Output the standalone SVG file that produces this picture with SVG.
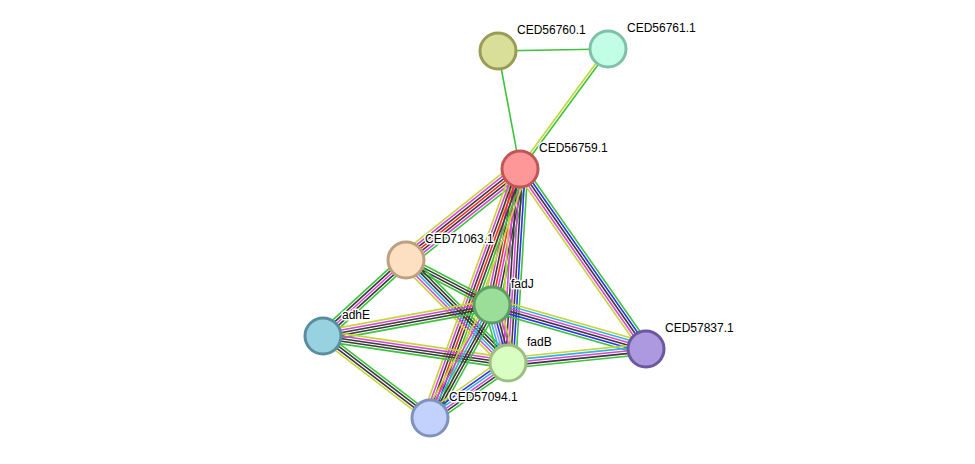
<svg xmlns="http://www.w3.org/2000/svg" width="975" height="464" viewBox="0 0 975 464">
<style>
line{stroke-width:1.6;fill:none}
.g{stroke:#3cc43c}.y{stroke:#c5d53a}.k{stroke:#3a3a3a}.m{stroke:#d845d8}.r{stroke:#ff2a2a}.b{stroke:#3030f0}.c{stroke:#30b4e0}.p{stroke:#9a9aff}
circle{stroke-width:3}
text{font-family:"Liberation Sans",Arial,sans-serif;font-size:12px;fill:#000;stroke:#fff;stroke-width:3px;stroke-linejoin:round;paint-order:stroke}
</style>
<rect width="975" height="464" fill="#fff"/>
<g id="connectors">
<g transform="translate(498,51) rotate(-1.04)"><line class="g" x1="0" y1="0" x2="110" y2="0"/></g>
<g transform="translate(498,51) rotate(79.44)"><line class="g" x1="0" y1="0" x2="120" y2="0"/></g>
<g transform="translate(608,49) rotate(126.25)"><line class="g" x1="0" y1="-1.3" x2="148.8" y2="-1.3"/><line class="y" x1="0" y1="1.3" x2="148.8" y2="1.3"/></g>
<g transform="translate(520,169) rotate(141.4)"><line class="g" x1="0" y1="-7.8" x2="145.9" y2="-7.8"/><line class="m" x1="0" y1="-5.2" x2="145.9" y2="-5.2"/><line class="k" x1="0" y1="-2.6" x2="145.9" y2="-2.6"/><line class="r" x1="0" y1="0" x2="145.9" y2="0"/><line class="k" x1="0" y1="2.6" x2="145.9" y2="2.6"/><line class="m" x1="0" y1="5.2" x2="145.9" y2="5.2"/><line class="y" x1="0" y1="7.8" x2="145.9" y2="7.8"/></g>
<g transform="translate(520,169) rotate(101.63)"><line class="g" x1="0" y1="-7.8" x2="138.9" y2="-7.8"/><line class="k" x1="0" y1="-5.2" x2="138.9" y2="-5.2"/><line class="m" x1="0" y1="-2.6" x2="138.9" y2="-2.6"/><line class="r" x1="0" y1="0" x2="138.9" y2="0"/><line class="k" x1="0" y1="2.6" x2="138.9" y2="2.6"/><line class="m" x1="0" y1="5.2" x2="138.9" y2="5.2"/><line class="y" x1="0" y1="7.8" x2="138.9" y2="7.8"/></g>
<g transform="translate(520,169) rotate(93.54)"><line class="g" x1="0" y1="-7.8" x2="194.4" y2="-7.8"/><line class="b" x1="0" y1="-5.2" x2="194.4" y2="-5.2"/><line class="k" x1="0" y1="-2.6" x2="194.4" y2="-2.6"/><line class="m" x1="0" y1="0" x2="194.4" y2="0"/><line class="k" x1="0" y1="2.6" x2="194.4" y2="2.6"/><line class="m" x1="0" y1="5.2" x2="194.4" y2="5.2"/><line class="y" x1="0" y1="7.8" x2="194.4" y2="7.8"/></g>
<g transform="translate(520,169) rotate(109.87)"><line class="y" x1="0" y1="-7.8" x2="264.8" y2="-7.8"/><line class="g" x1="0" y1="-5.2" x2="264.8" y2="-5.2"/><line class="k" x1="0" y1="-2.6" x2="264.8" y2="-2.6"/><line class="r" x1="0" y1="0" x2="264.8" y2="0"/><line class="k" x1="0" y1="2.6" x2="264.8" y2="2.6"/><line class="m" x1="0" y1="5.2" x2="264.8" y2="5.2"/><line class="y" x1="0" y1="7.8" x2="264.8" y2="7.8"/></g>
<g transform="translate(520,169) rotate(55.01)"><line class="g" x1="0" y1="-5.2" x2="219.7" y2="-5.2"/><line class="b" x1="0" y1="-2.6" x2="219.7" y2="-2.6"/><line class="k" x1="0" y1="0" x2="219.7" y2="0"/><line class="m" x1="0" y1="2.6" x2="219.7" y2="2.6"/><line class="y" x1="0" y1="5.2" x2="219.7" y2="5.2"/></g>
<g transform="translate(406,260) rotate(137.52)"><line class="g" x1="0" y1="-5.2" x2="112.5" y2="-5.2"/><line class="k" x1="0" y1="-2.6" x2="112.5" y2="-2.6"/><line class="m" x1="0" y1="0" x2="112.5" y2="0"/><line class="k" x1="0" y1="2.6" x2="112.5" y2="2.6"/><line class="g" x1="0" y1="5.2" x2="112.5" y2="5.2"/></g>
<g transform="translate(406,260) rotate(27.62)"><line class="g" x1="0" y1="-3.9" x2="97.1" y2="-3.9"/><line class="k" x1="0" y1="-1.3" x2="97.1" y2="-1.3"/><line class="k" x1="0" y1="1.3" x2="97.1" y2="1.3"/><line class="g" x1="0" y1="3.9" x2="97.1" y2="3.9"/></g>
<g transform="translate(406,260) rotate(45.28)"><line class="g" x1="0" y1="-6.5" x2="145" y2="-6.5"/><line class="k" x1="0" y1="-3.9" x2="145" y2="-3.9"/><line class="k" x1="0" y1="-1.3" x2="145" y2="-1.3"/><line class="c" x1="0" y1="1.3" x2="145" y2="1.3"/><line class="m" x1="0" y1="3.9" x2="145" y2="3.9"/><line class="y" x1="0" y1="6.5" x2="145" y2="6.5"/></g>
<g transform="translate(492,305) rotate(169.61)"><line class="g" x1="0" y1="-5.2" x2="171.8" y2="-5.2"/><line class="k" x1="0" y1="-2.6" x2="171.8" y2="-2.6"/><line class="k" x1="0" y1="0" x2="171.8" y2="0"/><line class="m" x1="0" y1="2.6" x2="171.8" y2="2.6"/><line class="y" x1="0" y1="5.2" x2="171.8" y2="5.2"/></g>
<g transform="translate(323,336) rotate(8.3)"><line class="y" x1="0" y1="-5.2" x2="187" y2="-5.2"/><line class="m" x1="0" y1="-2.6" x2="187" y2="-2.6"/><line class="k" x1="0" y1="0" x2="187" y2="0"/><line class="k" x1="0" y1="2.6" x2="187" y2="2.6"/><line class="g" x1="0" y1="5.2" x2="187" y2="5.2"/></g>
<g transform="translate(323,336) rotate(37.47)"><line class="g" x1="0" y1="-3.9" x2="134.8" y2="-3.9"/><line class="k" x1="0" y1="-1.3" x2="134.8" y2="-1.3"/><line class="k" x1="0" y1="1.3" x2="134.8" y2="1.3"/><line class="y" x1="0" y1="3.9" x2="134.8" y2="3.9"/></g>
<g transform="translate(492,305) rotate(74.58)"><line class="y" x1="0" y1="-7.8" x2="60.2" y2="-7.8"/><line class="m" x1="0" y1="-5.2" x2="60.2" y2="-5.2"/><line class="k" x1="0" y1="-2.6" x2="60.2" y2="-2.6"/><line class="b" x1="0" y1="0" x2="60.2" y2="0"/><line class="p" x1="0" y1="2.6" x2="60.2" y2="2.6"/><line class="c" x1="0" y1="5.2" x2="60.2" y2="5.2"/><line class="g" x1="0" y1="7.8" x2="60.2" y2="7.8"/></g>
<g transform="translate(492,305) rotate(15.95)"><line class="y" x1="0" y1="-6.5" x2="160.2" y2="-6.5"/><line class="c" x1="0" y1="-3.9" x2="160.2" y2="-3.9"/><line class="m" x1="0" y1="-1.3" x2="160.2" y2="-1.3"/><line class="k" x1="0" y1="1.3" x2="160.2" y2="1.3"/><line class="b" x1="0" y1="3.9" x2="160.2" y2="3.9"/><line class="g" x1="0" y1="6.5" x2="160.2" y2="6.5"/></g>
<g transform="translate(508,363) rotate(-5.79)"><line class="y" x1="0" y1="-5.2" x2="138.7" y2="-5.2"/><line class="c" x1="0" y1="-2.6" x2="138.7" y2="-2.6"/><line class="m" x1="0" y1="0" x2="138.7" y2="0"/><line class="k" x1="0" y1="2.6" x2="138.7" y2="2.6"/><line class="g" x1="0" y1="5.2" x2="138.7" y2="5.2"/></g>
<g transform="translate(492,305) rotate(118.75)"><line class="g" x1="0" y1="-6.5" x2="128.9" y2="-6.5"/><line class="k" x1="0" y1="-3.9" x2="128.9" y2="-3.9"/><line class="k" x1="0" y1="-1.3" x2="128.9" y2="-1.3"/><line class="c" x1="0" y1="1.3" x2="128.9" y2="1.3"/><line class="m" x1="0" y1="3.9" x2="128.9" y2="3.9"/><line class="y" x1="0" y1="6.5" x2="128.9" y2="6.5"/></g>
<g transform="translate(508,363) rotate(144.81)"><line class="g" x1="0" y1="-6.5" x2="95.4" y2="-6.5"/><line class="k" x1="0" y1="-3.9" x2="95.4" y2="-3.9"/><line class="m" x1="0" y1="-1.3" x2="95.4" y2="-1.3"/><line class="c" x1="0" y1="1.3" x2="95.4" y2="1.3"/><line class="b" x1="0" y1="3.9" x2="95.4" y2="3.9"/><line class="y" x1="0" y1="6.5" x2="95.4" y2="6.5"/></g>
</g>
<g id="CED56760.1"><circle cx="498" cy="51" r="18" fill="#d9df98" stroke="#9a9c56"/><text x="517" y="34">CED56760.1</text></g>
<g id="CED56761.1"><circle cx="608" cy="49" r="18" fill="#c2fde6" stroke="#80c0a8"/><text x="627" y="32">CED56761.1</text></g>
<g id="CED56759.1"><circle cx="520" cy="169" r="18" fill="#fe9898" stroke="#c05656"/><text x="539" y="152">CED56759.1</text></g>
<g id="CED71063.1"><circle cx="406" cy="260" r="18" fill="#fde0c2" stroke="#bea080"/><text x="425" y="243">CED71063.1</text></g>
<g id="fadJ"><circle cx="492" cy="305" r="18" fill="#9ade9a" stroke="#5e9e60"/><text x="511" y="288">fadJ</text></g>
<g id="adhE"><circle cx="323" cy="336" r="18" fill="#98d2e0" stroke="#5a8e9e"/><text x="342" y="319">adhE</text></g>
<g id="fadB"><circle cx="508" cy="363" r="18" fill="#d9fec2" stroke="#9cbf80"/><text x="527" y="346">fadB</text></g>
<g id="CED57837.1"><circle cx="646" cy="349" r="18" fill="#ad99e0" stroke="#6a58a0"/><text x="665" y="332">CED57837.1</text></g>
<g id="CED57094.1"><circle cx="430" cy="418" r="18" fill="#c2d2fd" stroke="#8090c0"/><text x="449" y="401">CED57094.1</text></g>
</svg>
